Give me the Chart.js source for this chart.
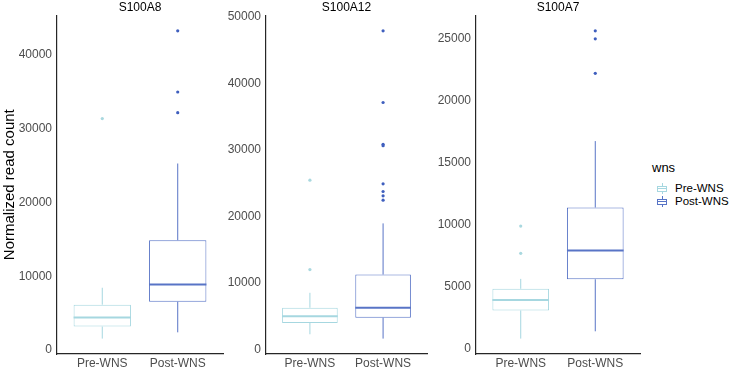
<!DOCTYPE html>
<html>
<head>
<meta charset="utf-8">
<script src="https://cdn.jsdelivr.net/npm/chart.js@4"></script>
<style>
  body { margin: 0; background: #fff; font-family: "Liberation Sans", Arial, sans-serif; }
  #wrap { position: relative; width: 733px; height: 369px; overflow: hidden; }
  canvas { position: absolute; top: 0; }
  #legend { position: absolute; left: 652px; top: 160px; color: #000; }
  #legend .ttl { font-size: 13px; line-height: 15px; margin-bottom: 7px; }
  #legend .row { font-size: 11.5px; height: 13px; line-height: 13px; position: relative; padding-left: 23px; }
  #legend .key { position: absolute; left: 5px; top: 1px; width: 10px; height: 11px; }
  #legend .key .bx { position: absolute; left: 0; top: 3px; width: 8px; height: 4px; border: 1px solid; }
  #legend .key .md { position: absolute; left: 0; top: 5px; width: 10px; height: 1px; }
  #legend .key .wh { position: absolute; left: 5px; top: 0; width: 1px; height: 11px; }
</style>
</head>
<body>
<div id="wrap">
  <canvas id="c0" width="228" height="369" style="left:0px"></canvas>
  <canvas id="c1" width="204" height="369" style="left:228px"></canvas>
  <canvas id="c2" width="213" height="369" style="left:432px"></canvas>
  <div id="legend"></div>
</div>
<script>
// ---- data ----
const groups = ['Pre-WNS', 'Post-WNS'];
const genes = ['S100A8', 'S100A12', 'S100A7'];

// box stats: lower whisker, Q1, median, Q3, upper whisker
const s100a8Pre = [1550, 3180, 4400, 6150, 8450];
const s100a8Post = [2400, 6550, 8900, 14900, 25300];
const s100a8PreOut = [31400];
const s100a8PostOut = [43300, 35000, 32200];

const s100a12Pre = [2250, 3950, 4950, 6250, 8500];
const s100a12Post = [1600, 4750, 6250, 11250, 18950];
const s100a12PreOut = [25450, 12000];
const s100a12PostOut = [47950, 37150, 30850, 30650, 24900, 23750, 23100, 22450];

const s100a7Pre = [780, 3050, 3900, 4800, 5600];
const s100a7Post = [1370, 5570, 7900, 11360, 16720];
const s100a7PreOut = [9860, 7660];
const s100a7PostOut = [25620, 24970, 22190];

const s100a8Ticks = [0, 10000, 20000, 30000, 40000];
const s100a12Ticks = [0, 10000, 20000, 30000, 40000, 50000];
const s100a7Ticks = [0, 5000, 10000, 15000, 20000, 25000];

// ---- styles ----
const preColour = '#a6d7e0';
const postColour = '#5874c6';
const preDot = '#a9d8df';
const postDot = '#3f5fbe';
const axisColour = '#262626';
const tickColour = '#4d4d4d';

// whiskers + median for the floating-bar boxes
const boxWhiskers = {
    id: 'boxWhiskers',
    afterDatasetsDraw(chart) {
        const ctx = chart.ctx;
        const y = chart.scales.y;
        chart.data.datasets.forEach((ds, di) => {
            if (!ds.stats) return;
            const meta = chart.getDatasetMeta(di);
            meta.data.forEach((bar, i) => {
                const s = ds.stats[i];
                const half = bar.width / 2;
                ctx.save();
                ctx.strokeStyle = ds.borderColor;
                ctx.lineWidth = 1;
                ctx.beginPath();
                ctx.moveTo(bar.x, y.getPixelForValue(s[0]));
                ctx.lineTo(bar.x, y.getPixelForValue(s[1]));
                ctx.moveTo(bar.x, y.getPixelForValue(s[3]));
                ctx.lineTo(bar.x, y.getPixelForValue(s[4]));
                ctx.stroke();
                ctx.lineWidth = 2;
                ctx.beginPath();
                ctx.moveTo(bar.x - half, y.getPixelForValue(s[2]));
                ctx.lineTo(bar.x + half, y.getPixelForValue(s[2]));
                ctx.stroke();
                ctx.restore();
            });
        });
    }
};

function make_panel(canvas_id, gene, pre, post, preOut, postOut, ticks, yWidth, showTitle) {
    // ggplot-like 5% expansion of the data range
    let all = pre.concat(post, preOut, postOut);
    let lo = Math.min(...all), hi = Math.max(...all);
    let pad = (hi - lo) * 0.05;

    return new Chart(document.getElementById(canvas_id), {
        type: 'bar',
        data: {
            datasets: [
                { label: groups[0], data: [{ x: 1, y: [pre[1], pre[3]] }], stats: [pre],
                  backgroundColor: '#ffffff', borderColor: preColour, borderWidth: 1, borderSkipped: false },
                { label: groups[1], data: [{ x: 2, y: [post[1], post[3]] }], stats: [post],
                  backgroundColor: '#ffffff', borderColor: postColour, borderWidth: 1, borderSkipped: false },
                { type: 'scatter', label: groups[0] + ' outliers', data: preOut.map(v => ({ x: 1, y: v })),
                  pointRadius: 1.6, pointBackgroundColor: preDot, pointBorderWidth: 0 },
                { type: 'scatter', label: groups[1] + ' outliers', data: postOut.map(v => ({ x: 2, y: v })),
                  pointRadius: 1.6, pointBackgroundColor: postDot, pointBorderWidth: 0 }
            ]
        },
        options: {
            responsive: false,
            animation: false,
            datasets: { bar: { grouped: false, categoryPercentage: 1, barPercentage: 0.76 } },
            layout: { padding: { left: 0, right: 5, top: 0, bottom: 0 } },
            plugins: {
                legend: { display: false },
                tooltip: { enabled: false },
                title: {
                    display: true, text: gene, fullSize: false, color: '#000',
                    font: { family: 'Liberation Sans', size: 12, weight: 'normal' },
                    padding: { top: 0, bottom: 1 }
                }
            },
            scales: {
                x: {
                    type: 'linear', min: 0.4, max: 2.6, offset: false,
                    grid: { display: false, drawTicks: false, offset: false },
                    border: { display: true, color: axisColour, width: 1.2 },
                    afterBuildTicks: (s) => { s.ticks = [{ value: 1 }, { value: 2 }]; },
                    afterFit: (s) => { s.height = 15; },
                    ticks: {
                        padding: 2, color: tickColour,
                        font: { family: 'Liberation Sans', size: 12 },
                        callback: (v) => groups[v - 1] || ''
                    }
                },
                y: {
                    min: lo - pad, max: hi + pad,
                    grid: { display: false, drawTicks: false },
                    border: { display: true, color: axisColour, width: 1.2 },
                    afterBuildTicks: (s) => { s.ticks = ticks.map(v => ({ value: v })); },
                    afterFit: (s) => { s.width = yWidth; },
                    ticks: {
                        padding: 5, color: tickColour,
                        font: { family: 'Liberation Sans', size: 12 },
                        callback: (v) => String(v)
                    },
                    title: {
                        display: showTitle, text: 'Normalized read count', color: '#000',
                        font: { family: 'Liberation Sans', size: 15 },
                        padding: { top: 1, bottom: 0 }
                    }
                }
            }
        },
        plugins: [boxWhiskers]
    });
}

make_panel('c0', genes[0], s100a8Pre, s100a8Post, s100a8PreOut, s100a8PostOut, s100a8Ticks, 57, true);
make_panel('c1', genes[1], s100a12Pre, s100a12Post, s100a12PreOut, s100a12PostOut, s100a12Ticks, 38, false);
make_panel('c2', genes[2], s100a7Pre, s100a7Post, s100a7PreOut, s100a7PostOut, s100a7Ticks, 44, false);

// legend
let legend = document.getElementById('legend');
let legend_html = "<div class='ttl'>wns</div>";
[preColour, postColour].forEach((c, i) => {
    legend_html += "<div class='row'><span class='key'>" +
        "<span class='wh' style='background:" + c + "'></span>" +
        "<span class='bx' style='border-color:" + c + ";background:#fff'></span>" +
        "<span class='md' style='background:" + c + "'></span>" +
        "</span>" + groups[i] + "</div>";
});
legend.insertAdjacentHTML('beforeend', legend_html);
</script>
</body>
</html>
